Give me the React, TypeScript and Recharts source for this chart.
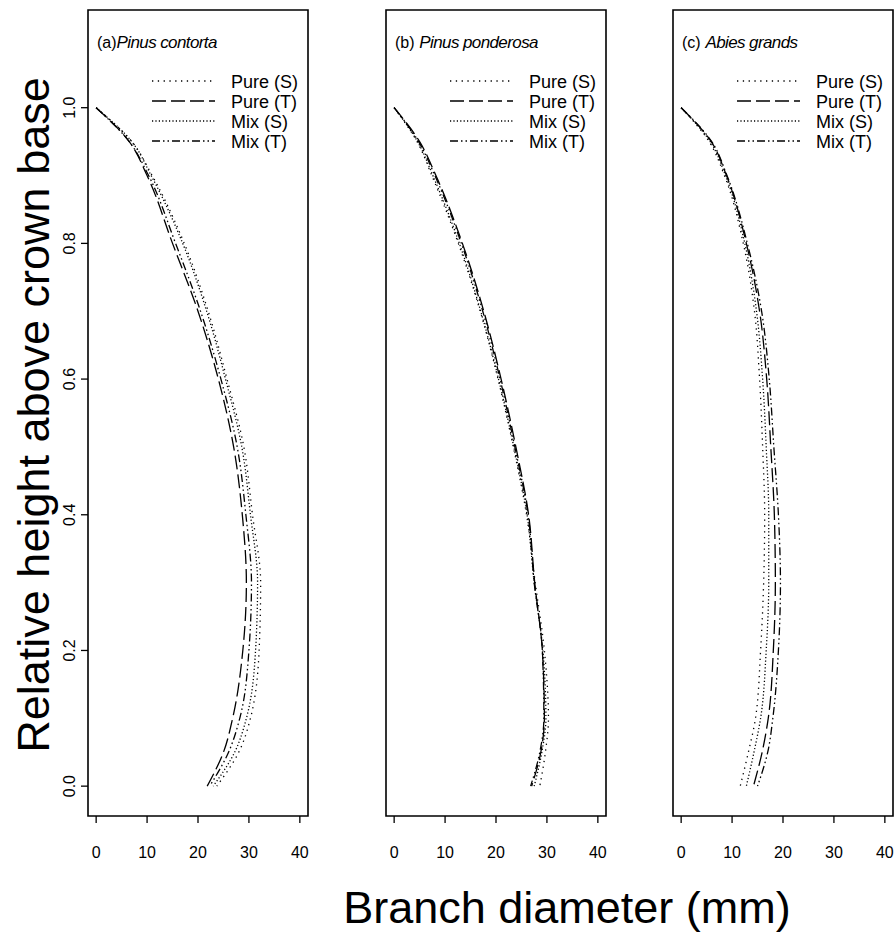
import React from 'react';
import { LineChart, Line, XAxis, YAxis, ReferenceArea, Legend } from 'recharts';

// Relative height above crown base (shared by all series)
const HEIGHTS = [1.0, 0.95, 0.9, 0.8, 0.7, 0.6, 0.5, 0.4, 0.3, 0.2, 0.1, 0.05, 0.0];
const X_TICKS = [0, 10, 20, 30, 40];
const Y_TICKS = [0, 0.2, 0.4, 0.6, 0.8, 1.0];
const SERIES_NAMES = ['Pure (S)', 'Pure (T)', 'Mix (S)', 'Mix (T)'];
const PANEL_LABELS = ['(a)', '(b)', '(c)'];
const SPECIES = ['Pinus contorta', 'Pinus ponderosa', 'Abies grands'];

// Branch diameter (mm), (a) Pinus contorta
const contortaPureS = [0, 7, 11, 17.3, 22, 25.7, 29, 30.7, 32.3, 32, 30.3, 28, 23.7];
const contortaPureT = [0, 6.5, 10, 15, 20, 24, 27, 28.7, 29.5, 28.8, 26.8, 25, 21.8];
const contortaMixS = [0, 7, 10.8, 17, 21.7, 25.4, 28.6, 30.3, 31.7, 31.3, 29.5, 27.2, 23];
const contortaMixT = [0, 6.5, 10.3, 15.6, 20.5, 24.5, 27.7, 29.4, 30.5, 30, 28.2, 26, 22.3];

// (b) Pinus ponderosa
const ponderosaPureS = [0, 4.5, 7.4, 12.6, 16.9, 20.4, 23.4, 26, 27.7, 29.5, 30.3, 29.7, 28.6];
const ponderosaPureT = [0, 5, 8.2, 13.4, 17.6, 21, 23.9, 26.4, 27.6, 29.1, 29.5, 28.8, 27];
const ponderosaMixS = [0, 4.6, 7.6, 12.8, 17, 20.5, 23.5, 26.1, 27.5, 29.2, 29.8, 29, 27.5];
const ponderosaMixT = [0, 4.8, 8, 13.2, 17.4, 20.8, 23.7, 26.3, 27.5, 29.1, 29.4, 28.6, 26.8];

// (c) Abies grands
const grandsPureS = [0, 5.5, 8.5, 12.2, 14.4, 15.4, 16, 16.4, 16.2, 15.6, 14.6, 13.2, 11.6];
const grandsPureT = [0, 5.9, 8.9, 12.8, 15.4, 16.8, 17.6, 18.3, 18.5, 18.1, 17.1, 15.9, 14.2];
const grandsMixS = [0, 5.7, 8.7, 12.5, 14.8, 16, 16.7, 17.2, 17.2, 16.7, 15.6, 14.3, 12.8];
const grandsMixT = [0, 6, 9, 13, 15.8, 17.3, 18.2, 19.1, 19.5, 19.1, 18, 17, 15];

const FONT = '"Liberation Sans", Arial, Helvetica, sans-serif';
const KEYS = ['pureS', 'pureT', 'mixS', 'mixT'];
const DASHES = ['1.3 4.5', '14 5', '1.2 2.2', '8 3 1.5 3 1.5 3'];

const X_DOMAIN: [number, number] = [-1.6, 41.6];
const Y_DOMAIN: [number, number] = [-0.044, 1.144];

function buildRows(pS: number[], pT: number[], mS: number[], mT: number[]) {
  return HEIGHTS.map((h, i) => ({ h, pureS: pS[i], pureT: pT[i], mixS: mS[i], mixT: mT[i] }));
}

const PANELS = [
  { data: buildRows(contortaPureS, contortaPureT, contortaMixS, contortaMixT), left: 0, width: 320, mLeft: 0, mRight: 12, showY: true },
  { data: buildRows(ponderosaPureS, ponderosaPureT, ponderosaMixS, ponderosaMixT), left: 376, width: 240, mLeft: 10, mRight: 10, showY: false },
  { data: buildRows(grandsPureS, grandsPureT, grandsMixS, grandsMixT), left: 663, width: 232, mLeft: 10, mRight: 2, showY: false },
];

const LegendBox = () => (
  <svg width={170} height={90} style={{ overflow: 'visible', display: 'block' }}>
    {SERIES_NAMES.map((name, i) => (
      <g key={name}>
        <line x1={0} x2={63} y1={11 + i * 20} y2={11 + i * 20} stroke="#000" strokeWidth={1.3} strokeDasharray={DASHES[i]} />
        <text x={79} y={11 + i * 20 + 6.5} fontSize={18} fontFamily={FONT} fill="#000">{name}</text>
      </g>
    ))}
  </svg>
);

const YTick = (props: any) => {
  const { x, y, payload } = props;
  return (
    <text transform={`translate(${x - 6},${y}) rotate(-90)`} textAnchor="middle" fontSize={16} fontFamily={FONT} fill="#000">
      {Number(payload.value).toFixed(1)}
    </text>
  );
};

function Panel({ idx }: { idx: number }) {
  const p = PANELS[idx];
  const plotLeft = p.mLeft + (p.showY ? 88 : 0);
  return (
    <div style={{ position: 'absolute', left: p.left, top: 0 }}>
      <LineChart
        layout="vertical"
        width={p.width}
        height={880}
        data={p.data}
        margin={{ top: 10, right: p.mRight, left: p.mLeft, bottom: 14 }}
      >
        <XAxis
          type="number"
          domain={X_DOMAIN}
          ticks={X_TICKS}
          interval={0}
          allowDataOverflow
          axisLine={false}
          tickSize={7}
          tickMargin={24}
          height={50}
          tickLine={{ stroke: '#000', strokeWidth: 1.3 }}
          tick={{ fill: '#000', fontSize: 16, fontFamily: FONT }}
        />
        <YAxis
          type="number"
          dataKey="h"
          domain={Y_DOMAIN}
          ticks={Y_TICKS}
          interval={0}
          reversed
          allowDataOverflow
          hide={!p.showY}
          width={88}
          axisLine={false}
          tickSize={7}
          tickMargin={0}
          tickLine={{ stroke: '#000', strokeWidth: 1.3 }}
          tick={(tp: any) => <YTick {...tp} />}
        />
        <ReferenceArea
          x1={X_DOMAIN[0]}
          x2={X_DOMAIN[1]}
          y1={Y_DOMAIN[0]}
          y2={Y_DOMAIN[1]}
          fill="none"
          fillOpacity={0}
          stroke="#000"
          strokeWidth={1.6}
          ifOverflow="visible"
        />
        {KEYS.map((k, i) => (
          <Line
            key={k}
            dataKey={k}
            name={SERIES_NAMES[i]}
            type="monotoneY"
            stroke="#000"
            strokeWidth={1.3}
            strokeDasharray={DASHES[i]}
            dot={false}
            activeDot={false}
            isAnimationActive={false}
          />
        ))}
        <Legend
          layout="vertical"
          align="center"
          verticalAlign="middle"
          wrapperStyle={{ left: plotLeft + 64, top: 70, width: 170, height: 90, right: 'auto', bottom: 'auto' }}
          content={() => <LegendBox />}
        />
      </LineChart>
      <div
        style={{
          position: 'absolute',
          left: plotLeft + 9,
          top: 33,
          fontFamily: FONT,
          fontSize: 17,
          whiteSpace: 'nowrap',
          color: '#000',
          lineHeight: '20px',
        }}
      >
        <span style={{ fontSize: 16 }}>{PANEL_LABELS[idx]}</span>
        {idx > 0 ? ' ' : ''}
        <span style={{ fontStyle: 'italic', letterSpacing: '-0.6px' }}>{SPECIES[idx]}</span>
      </div>
    </div>
  );
}

export default function App() {
  return (
    <div style={{ position: 'absolute', left: 0, top: 0, width: 895, height: 933, background: '#fff', overflow: 'hidden' }}>
      {PANELS.map((_, i) => (
        <Panel key={i} idx={i} />
      ))}
      <svg width={895} height={933} style={{ position: 'absolute', left: 0, top: 0, pointerEvents: 'none' }}>
        <text
          transform="translate(49,415) rotate(-90)"
          textAnchor="middle"
          fontSize={45}
          fontFamily={FONT}
          fill="#000"
        >
          Relative height above crown base
        </text>
        <text x={567} y={923} textAnchor="middle" fontSize={45} fontFamily={FONT} fill="#000">
          Branch diameter (mm)
        </text>
      </svg>
    </div>
  );
}
